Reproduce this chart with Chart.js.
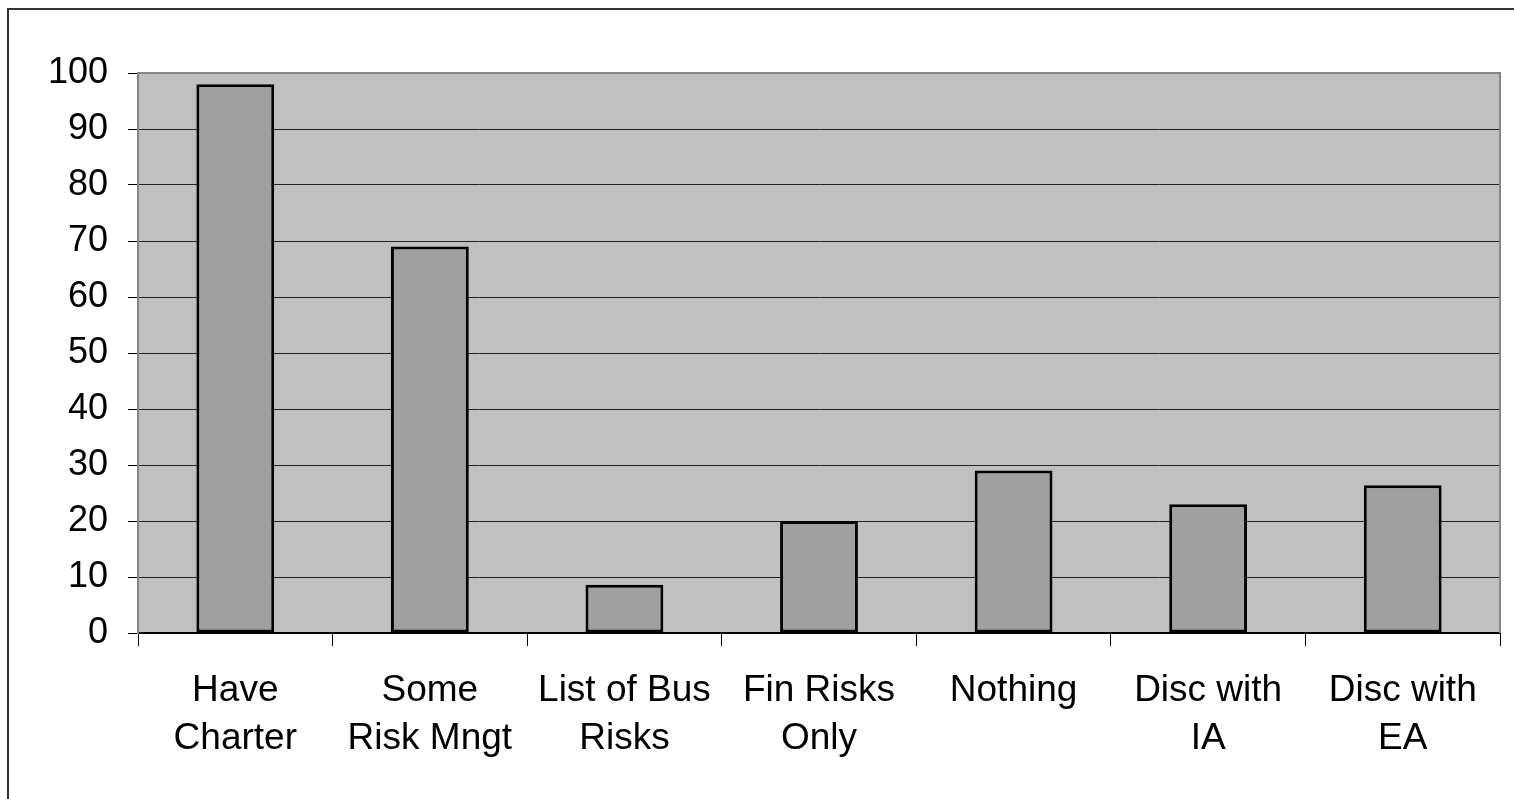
<!DOCTYPE html>
<html>
<head>
<meta charset="utf-8">
<title>Risk management survey</title>
<script src="https://cdn.jsdelivr.net/npm/chart.js@4/dist/chart.umd.min.js"></script>
<style>
  html, body { margin: 0; padding: 0; background: #ffffff; }
  #wrap { position: relative; width: 1514px; height: 799px; }
</style>
</head>
<body>
<div id="wrap"><canvas id="chart" width="1514" height="799"></canvas></div>
<script>
// Survey categories (multi-line labels) and response values
const categories = [
  ['Have', 'Charter'],
  ['Some', 'Risk Mngt'],
  ['List of Bus', 'Risks'],
  ['Fin Risks', 'Only'],
  ['Nothing'],
  ['Disc with', 'IA'],
  ['Disc with', 'EA']
];
const responses = [98, 69, 8.6, 20, 29, 23, 26.4];
const yTicks = [0, 10, 20, 30, 40, 50, 60, 70, 80, 90, 100];

const FONT = '"Liberation Sans", Arial, Helvetica, sans-serif';

// Grey plot background, grey frame on top/right, outer frame of the figure
const framePlugin = {
  id: 'frame',
  beforeDraw(chart) {
    const { ctx, chartArea: a } = chart;
    ctx.save();
    ctx.fillStyle = '#c0c0c0';
    ctx.fillRect(a.left, a.top, a.right - a.left, a.bottom - a.top);
    ctx.restore();
  },
  afterDraw(chart) {
    const { ctx, chartArea: a } = chart;
    ctx.save();
    // top and right edges of the plot area
    ctx.strokeStyle = '#858585';
    ctx.lineWidth = 2;
    ctx.beginPath();
    ctx.moveTo(a.left, a.top);
    ctx.lineTo(a.right, a.top);
    ctx.lineTo(a.right, a.bottom);
    ctx.stroke();
    // outer figure frame (continues past the right/bottom edges)
    ctx.strokeStyle = '#333333';
    ctx.lineWidth = 2;
    ctx.beginPath();
    ctx.moveTo(8, 820);
    ctx.lineTo(8, 9);
    ctx.lineTo(1530, 9);
    ctx.stroke();
    ctx.restore();
  }
};

new Chart(document.getElementById('chart'), {
  type: 'bar',
  data: {
    labels: categories,
    datasets: [{
      data: responses,
      backgroundColor: '#a0a0a0',
      borderColor: '#000000',
      borderWidth: 3,
      borderSkipped: false,
      categoryPercentage: 1.0,
      barPercentage: 0.4
    }]
  },
  options: {
    responsive: false,
    animation: false,
    devicePixelRatio: 1,
    layout: { padding: { left: 0, right: 14, top: 73, bottom: 0 } },
    plugins: {
      legend: { display: false },
      tooltip: { enabled: false }
    },
    scales: {
      x: {
        type: 'category',
        offset: true,
        grid: {
          offset: true,
          drawOnChartArea: false,
          drawTicks: true,
          tickLength: 13,
          tickColor: '#000000',
          lineWidth: 1
        },
        border: { color: '#000000', width: 2 },
        ticks: {
          color: '#000000',
          padding: 21,
          maxRotation: 0,
          autoSkip: false,
          font: { family: FONT, size: 37, lineHeight: 1.3 }
        },
        afterFit(scale) { scale.height = 166; }
      },
      y: {
        min: 0,
        max: 100,
        afterBuildTicks(scale) { scale.ticks = yTicks.map(v => ({ value: v })); },
        grid: {
          color: (c) => (c.tick && c.tick.value === 100 ? 'rgba(0,0,0,0)' : '#222222'),
          lineWidth: 1,
          tickLength: 10,
          tickColor: '#000000'
        },
        border: { color: '#858585', width: 2 },
        ticks: {
          color: '#000000',
          padding: 20,
          font: { family: FONT, size: 36 }
        },
        afterFit(scale) { scale.width = 138; }
      }
    }
  },
  plugins: [framePlugin]
});
</script>
</body>
</html>
